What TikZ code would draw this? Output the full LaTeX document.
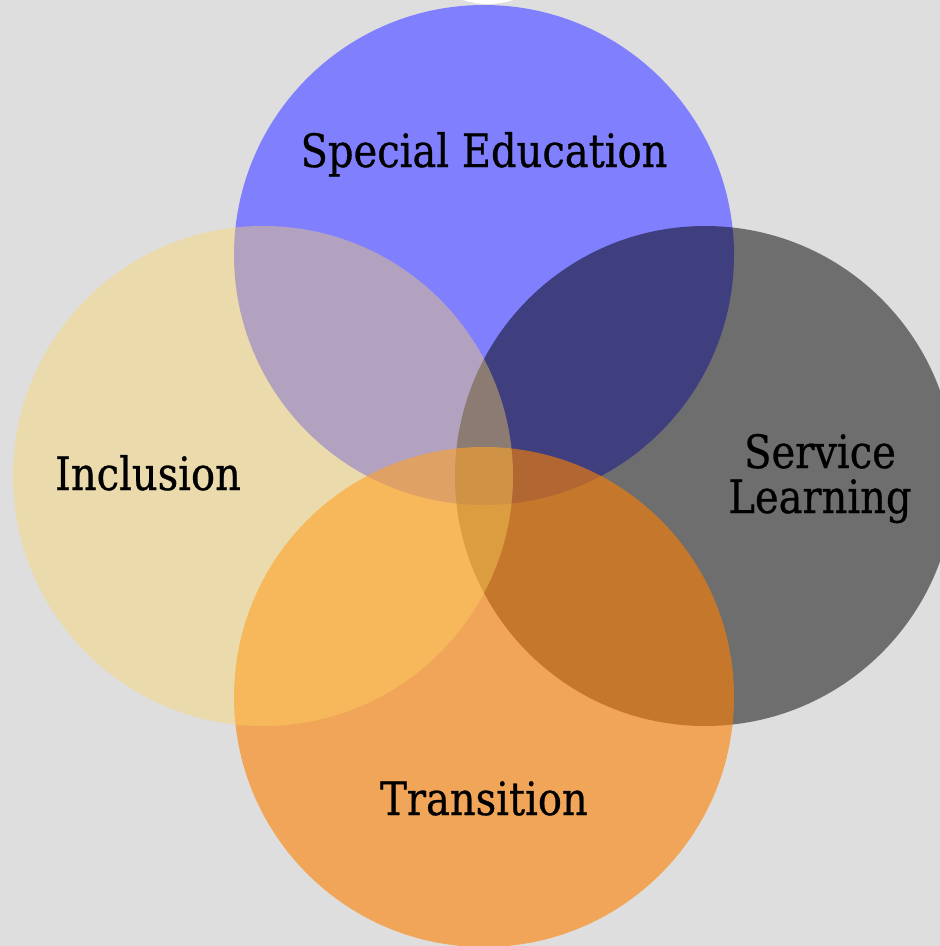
\documentclass[tikz,border=0pt]{standalone}
\usepackage{fontspec}
\setmainfont{DejaVu Serif}[FakeStretch=0.87,FakeBold=0.6]
\definecolor{bgc}{RGB}{222,222,222}
\definecolor{seblue}{RGB}{128,128,255}
\definecolor{incl}{RGB}{255,214,97}
\definecolor{tranor}{RGB}{255,128,0}
\tikzset{
  venn/.style={circle, minimum size=500pt, inner sep=0pt, outer sep=0pt},
  lbl/.style={font=\fontsize{46}{50}\selectfont, text=black, anchor=base, inner sep=0pt, align=center}
}
\begin{document}
\begin{tikzpicture}[x=1pt,y=-1pt]
\useasboundingbox (0,0) rectangle (940,946);
\fill[bgc] (0,0) rectangle (940,946);
\begin{scope}
\clip (0,0) rectangle (940,946);
\fill[white] (488,-76) circle[radius=80];
\node[venn, fill=seblue] (se) at (484,255) {};
\node[venn, fill=black, fill opacity=0.5] (sl) at (705,476) {};
\node[venn, fill=tranor, fill opacity=0.6] (tr) at (484,697) {};
\node[venn, fill=incl, fill opacity=0.4] (in) at (263,476) {};
\end{scope}
\node[lbl] (tse) at (484,167) {Special Education};
\node[lbl] (tin) at (148,490) {Inclusion};
\node[lbl] (tsl1) at (820,468) {Service};
\node[lbl] (tsl2) at (820,513) {Learning};
\node[lbl] (ttr) at (484,815) {Transition};
\end{tikzpicture}
\end{document}
